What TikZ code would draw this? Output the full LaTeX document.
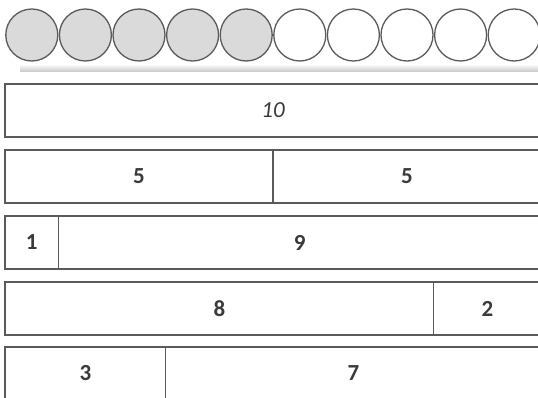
\documentclass[tikz,border=0pt]{standalone}
\usepackage{fontspec}
\setmainfont{Carlito}
\usetikzlibrary{positioning}
\definecolor{ink}{HTML}{3A3A3A}
\definecolor{rim}{HTML}{5A5A5A}
\definecolor{beadgray}{HTML}{DADADA}

\begin{document}
\begin{tikzpicture}[x=1pt, y=-1pt,
  every node/.style={font=\fontsize{23}{24}\selectfont\bfseries, text=ink},
  bead/.style={circle, draw=rim, line width=1.3pt, minimum size=52pt,
               inner sep=0pt},
  beadg/.style={bead, fill=beadgray},
  beadw/.style={bead, fill=white},
  part/.style={rectangle, draw=rim, line width=1.2pt, inner sep=0pt,
               outer sep=0pt, minimum height=53pt,
               minimum width=#1*53.6pt}
]
\useasboundingbox (0,0) rectangle (538,398);
% Top row: ten counters, five grey
\node[beadg] (c1)  at (31.8, 35)  {};
\node[beadg] (c2)  at (85.4, 35)  {};
\node[beadg] (c3)  at (139.0, 35) {};
\node[beadg] (c4)  at (192.6, 35) {};
\node[beadg] (c5)  at (246.2, 35) {};
\node[beadw] (c6)  at (299.8, 35) {};
\node[beadw] (c7)  at (353.4, 35) {};
\node[beadw] (c8)  at (407.0, 35) {};
\node[beadw] (c9)  at (460.6, 35) {};
\node[beadw] (c10) at (514.2, 35) {};
% Shelf under the counters
\shade[top color=gray!5, bottom color=gray!45] (20,65) rectangle (538,72);
% Bars: the whole, then the splits of ten
\node[part=10, anchor=north west] (ten) at (5, 84)
  {\mdseries\itshape 10};
\node[part=5, anchor=north west] (fiveA) at (5, 150) {5};
\node[part=5, right=0pt of fiveA] (fiveB) {5};
\node[part=1, anchor=north west] (one)   at (5, 216) {1};
\node[part=9, right=0pt of one]   (nine)  {9};
\node[part=8, anchor=north west] (eight) at (5, 282) {8};
\node[part=2, right=0pt of eight] (two)   {2};
\node[part=3, anchor=north west] (three) at (5, 347) {3};
\node[part=7, right=0pt of three] (seven) {7};
\end{tikzpicture}
\end{document}
